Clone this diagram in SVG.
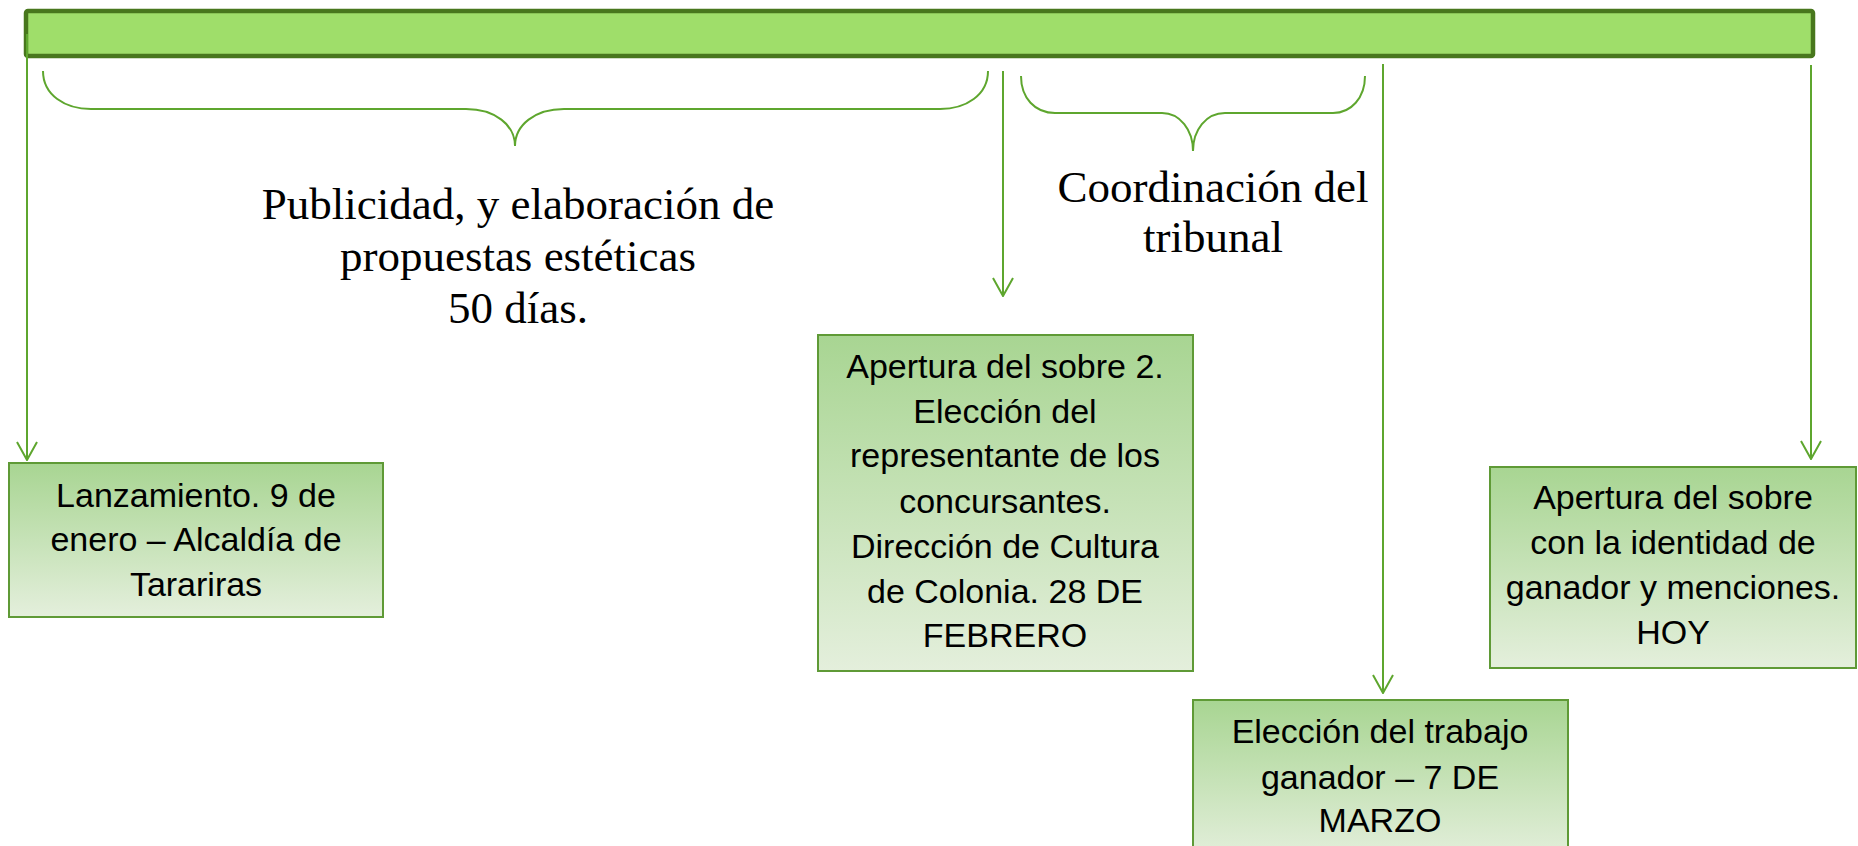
<svg xmlns="http://www.w3.org/2000/svg" width="1858" height="846" viewBox="0 0 1858 846">
<style>
.node rect{fill:url(#g);stroke:#5f9a36;stroke-width:2}
.node text{font-family:"Liberation Sans",Arial,sans-serif;font-size:34px;fill:#000;text-anchor:middle}
.lbl{font-family:"Liberation Serif","Times New Roman",serif;font-size:45px;fill:#000;text-anchor:middle}
.con{fill:none;stroke:#5ea62e;stroke-width:2}
</style>
<defs>
<linearGradient id="g" x1="0" y1="0" x2="0" y2="1">
<stop offset="0" stop-color="#a8d592"/>
<stop offset="1" stop-color="#e4efdc"/>
</linearGradient>
<marker id="arr" viewBox="0 0 20 22" refX="19" refY="11" markerWidth="20" markerHeight="22" markerUnits="userSpaceOnUse" orient="auto">
<path d="M1,1 L19,11 L1,21" fill="none" stroke="#5ea62e" stroke-width="2"/>
</marker>
</defs>
<rect width="1858" height="846" fill="#fff"/>
<g id="timeline-bar">
<rect x="26" y="11" width="1787" height="45" rx="2" fill="#9fde6a" stroke="#48771d" stroke-width="4.5"/>
</g>
<g id="connectors">
<line class="con" x1="27" y1="34" x2="27" y2="460" marker-end="url(#arr)"/>
<line class="con" x1="1003" y1="71" x2="1003" y2="296" marker-end="url(#arr)"/>
<line class="con" x1="1383" y1="64" x2="1383" y2="693" marker-end="url(#arr)"/>
<line class="con" x1="1811" y1="65" x2="1811" y2="459" marker-end="url(#arr)"/>
<path class="con" d="M43,71 C43,95 65,109 91,109 L466,109 C495,109 515,125 515,146 C515,125 535,109 564,109 L940,109 C966,109 988,95 988,71"/>
<path class="con" d="M1021,76 C1021,98 1035,113 1055,113 L1162,113 C1180,113 1193,130 1193,151 C1193,130 1206,113 1225,113 L1333,113 C1351,113 1365,98 1365,76"/>
</g>
<g id="label-publicidad">
<text class="lbl" x="518" y="219">Publicidad, y elaboración de</text>
<text class="lbl" x="518" y="271">propuestas estéticas</text>
<text class="lbl" x="518" y="323">50 días.</text>
</g>
<g id="label-coordinacion">
<text class="lbl" x="1213" y="202">Coordinación del</text>
<text class="lbl" x="1213" y="252">tribunal</text>
</g>
<g id="node-lanzamiento" class="node">
<rect x="9" y="463" width="374" height="154"/>
<text x="196" y="507">Lanzamiento. 9 de</text>
<text x="196" y="551">enero – Alcaldía de</text>
<text x="196" y="596">Tarariras</text>
</g>
<g id="node-apertura2" class="node">
<rect x="818" y="335" width="375" height="336"/>
<text x="1005" y="378">Apertura del sobre 2.</text>
<text x="1005" y="423">Elección del</text>
<text x="1005" y="467">representante de los</text>
<text x="1005" y="513">concursantes.</text>
<text x="1005" y="558">Dirección de Cultura</text>
<text x="1005" y="603">de Colonia. 28 DE</text>
<text x="1005" y="647">FEBRERO</text>
</g>
<g id="node-eleccion" class="node">
<rect x="1193" y="700" width="375" height="160"/>
<text x="1380" y="743">Elección del trabajo</text>
<text x="1380" y="789">ganador – 7 DE</text>
<text x="1380" y="832">MARZO</text>
</g>
<g id="node-hoy" class="node">
<rect x="1490" y="467" width="366" height="201"/>
<text x="1673" y="509">Apertura del sobre</text>
<text x="1673" y="554">con la identidad de</text>
<text x="1673" y="599">ganador y menciones.</text>
<text x="1673" y="644">HOY</text>
</g>
</svg>
